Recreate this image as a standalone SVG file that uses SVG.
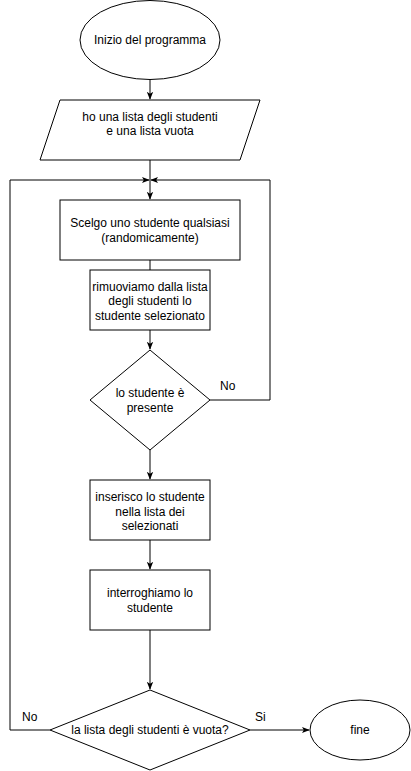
<svg xmlns="http://www.w3.org/2000/svg" width="411" height="771" viewBox="0 0 411 771">
<style>
.s{fill:#fff;stroke:#000;stroke-width:1}
.c{fill:none;stroke:#000;stroke-width:1}
text{font-family:"Liberation Sans",Arial,sans-serif;font-size:12px;fill:#000;text-anchor:middle}
.l{text-anchor:start}
</style>
<defs>
<marker id="a" viewBox="0 0 10 10" refX="9" refY="5" markerWidth="8" markerHeight="8" markerUnits="userSpaceOnUse" orient="auto">
<path d="M0,1 L10,5 L0,9 L2.5,5 z" fill="#000"/>
</marker>
</defs>
<g id="connectors">
<line class="c" x1="150" y1="80" x2="150" y2="99" marker-end="url(#a)"/>
<line class="c" x1="150" y1="160" x2="150" y2="180"/>
<line class="c" x1="150" y1="180" x2="150" y2="199" marker-end="url(#a)"/>
<line class="c" x1="150" y1="260" x2="150" y2="270"/>
<line class="c" x1="150" y1="330" x2="150" y2="349" marker-end="url(#a)"/>
<polyline class="c" points="210,400 270,400 270,180 151,180" marker-end="url(#a)"/>
<line class="c" x1="150" y1="450" x2="150" y2="479" marker-end="url(#a)"/>
<line class="c" x1="150" y1="540" x2="150" y2="569" marker-end="url(#a)"/>
<line class="c" x1="150" y1="630" x2="150" y2="689" marker-end="url(#a)"/>
<polyline class="c" points="50,730 10,730 10,180 149,180" marker-end="url(#a)"/>
<line class="c" x1="250" y1="730" x2="309" y2="730" marker-end="url(#a)"/>
<text x="220" y="390" class="l">No</text>
<text x="22" y="721" class="l">No</text>
<text x="255" y="721" class="l">Si</text>
</g>
<g id="start">
<ellipse class="s" cx="150" cy="40" rx="70" ry="39.5"/>
<text x="150" y="44">Inizio del programma</text>
</g>
<g id="input">
<polygon class="s" points="60,100 260,100 240,160 40,160"/>
<text x="150" y="121">ho una lista degli studenti</text>
<text x="150" y="135">e una lista vuota</text>
</g>
<g id="scelgo">
<rect class="s" x="60" y="200" width="180" height="60"/>
<text x="150" y="227">Scelgo uno studente qualsiasi</text>
<text x="150" y="242">(randomicamente)</text>
</g>
<g id="rimuovi">
<rect class="s" x="90" y="270" width="120" height="60"/>
<text x="150" y="291">rimuoviamo dalla lista</text>
<text x="150" y="305">degli studenti lo</text>
<text x="150" y="320">studente selezionato</text>
</g>
<g id="presente">
<polygon class="s" points="150,350 210,400 150,450 90,400"/>
<text x="150" y="397">lo studente è</text>
<text x="150" y="412">presente</text>
</g>
<g id="inserisco">
<rect class="s" x="90" y="480" width="120" height="60"/>
<text x="150" y="501">inserisco lo studente</text>
<text x="150" y="516">nella lista dei</text>
<text x="150" y="530">selezionati</text>
</g>
<g id="interroghiamo">
<rect class="s" x="90" y="570" width="120" height="60"/>
<text x="150" y="597">interroghiamo lo</text>
<text x="150" y="612">studente</text>
</g>
<g id="vuota">
<polygon class="s" points="150,690 250,730 150,770 50,730"/>
<text x="150" y="734">la lista degli studenti è vuota?</text>
</g>
<g id="fine">
<ellipse class="s" cx="360" cy="730" rx="50" ry="30"/>
<text x="360" y="734">fine</text>
</g>
</svg>
